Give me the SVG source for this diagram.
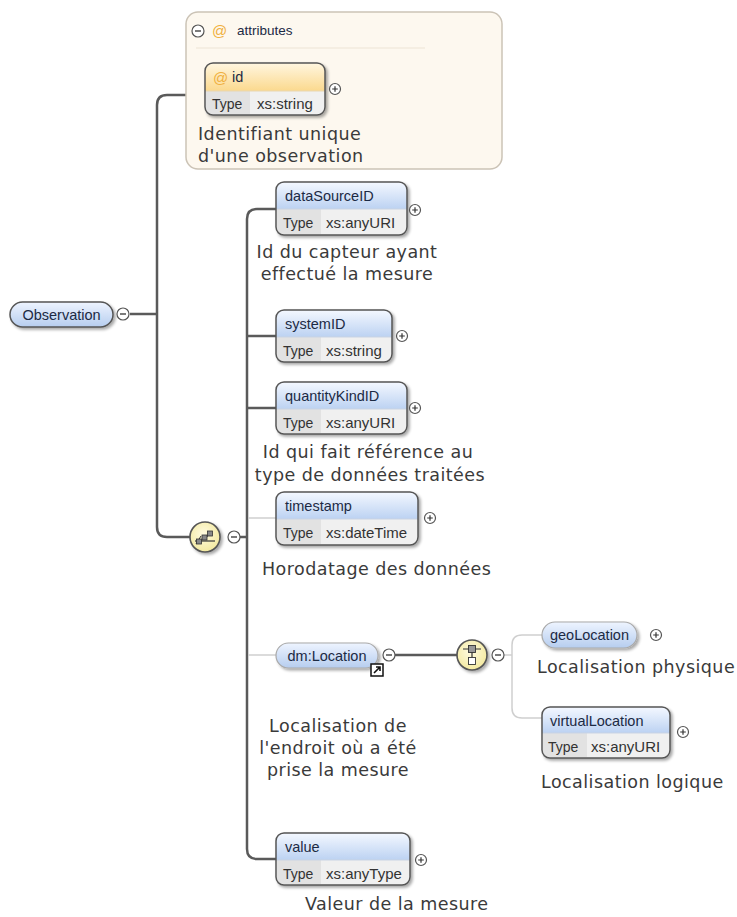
<svg xmlns="http://www.w3.org/2000/svg" width="737" height="917" viewBox="0 0 737 917">
<defs>
<linearGradient id="gBlue" x1="0" y1="0" x2="0" y2="1"><stop offset="0" stop-color="#f4f8ff"/><stop offset="1" stop-color="#bcd2f2"/></linearGradient>
<linearGradient id="gOrange" x1="0" y1="0" x2="0" y2="1"><stop offset="0" stop-color="#fff6e0"/><stop offset="1" stop-color="#fbd98e"/></linearGradient>
<linearGradient id="gPill" x1="0" y1="0" x2="0" y2="1"><stop offset="0" stop-color="#eef4ff"/><stop offset="1" stop-color="#b6cdef"/></linearGradient>
<radialGradient id="gYellow" cx="0.45" cy="0.4" r="0.6"><stop offset="0" stop-color="#fffbe0"/><stop offset="1" stop-color="#f3e9a0"/></radialGradient>
<filter id="sh" x="-10%" y="-10%" width="130%" height="140%"><feGaussianBlur in="SourceAlpha" stdDeviation="1.5"/><feOffset dx="2" dy="2"/><feComponentTransfer><feFuncA type="linear" slope="0.35"/></feComponentTransfer><feMerge><feMergeNode/><feMergeNode in="SourceGraphic"/></feMerge></filter>
<g id="plus"><circle r="5.5" fill="#fff" stroke="#555" stroke-width="1.2"/><path d="M-2.8,0H2.8M0,-2.8V2.8" stroke="#333" stroke-width="1.2"/></g>
<g id="minus"><circle r="6" fill="#fff" stroke="#555" stroke-width="1.2"/><path d="M-3,0H3" stroke="#333" stroke-width="1.3"/></g>
</defs>
<style>
.lbl{font-family:"Liberation Sans",Arial,sans-serif;font-size:14.5px;fill:#1c2a44}
.typ{font-family:"Liberation Sans",Arial,sans-serif;font-size:14px;fill:#333}
.val{font-family:"Liberation Sans",Arial,sans-serif;font-size:15px;fill:#333}
.desc{font-family:"DejaVu Sans",Verdana,sans-serif;font-size:17.5px;fill:#3a3a3a;letter-spacing:0.45px}
.box{fill:none;stroke:#555;stroke-width:1.5}
.row{fill:#f0f0f0}
.tcell{fill:#e2e2e2}
.sep{stroke:#c9d3e3;stroke-width:1}
.conn{fill:none;stroke:#5a5a5a;stroke-width:2.5}
.opt{fill:none;stroke:#cfcfcf;stroke-width:1.5}
</style>

<g id="connectors">
<path class="conn" d="M130,314H157"/>
<path class="conn" d="M187,95H167Q157,95 157,105V527Q157,537 167,537H190"/>
<path class="conn" d="M240,537H247"/>
<path class="conn" d="M276,209H257Q247,209 247,219V849Q247,859 257,859H276"/>
<path class="conn" d="M247,336H276"/>
<path class="conn" d="M247,408H276"/>
<path class="opt" d="M248,518H276"/>
<path class="opt" d="M248,655H276"/>
<path class="conn" d="M395,655H457"/>
<path class="opt" d="M504,655H512"/>
<path class="opt" d="M542,635H522Q512,635 512,645V708Q512,718 522,718H542"/>
</g>

<g id="attributes">
<rect x="186" y="12" width="316" height="157" rx="12" fill="#fdf8ef" stroke="#cbc3b6" stroke-width="1.5"/>
<use href="#minus" x="198" y="31"/>
<text x="212" y="36" font-family="Liberation Sans,Arial,sans-serif" font-size="15" fill="#f0b040">@</text>
<text x="237" y="35" class="lbl" style="font-size:13.5px">attributes</text>
<path d="M196,48H425" stroke="#eee4d6" stroke-width="1.2"/>
</g>

<g id="node-id" transform="translate(205,63)">
<g filter="url(#sh)">
<rect width="120" height="52" rx="8" class="row"/>
<path d="M0,28V8Q0,0 8,0H112Q120,0 120,8V28Z" fill="url(#gOrange)"/>
<rect x="1" y="28" width="44" height="23" class="tcell"/>
<path d="M0,28H120" stroke="#e8d6b0"/>
<rect width="120" height="52" rx="8" class="box" stroke="#888"/>
</g>
<text x="8" y="20" font-family="Liberation Sans,Arial,sans-serif" font-size="15" fill="#f0b040">@</text>
<text x="27" y="19" class="lbl">id</text>
<text x="7" y="46" class="typ">Type</text>
<text x="52" y="46" class="val">xs:string</text>
<use href="#plus" x="130" y="26"/>
</g>
<text class="desc" x="198" y="140">Identifiant unique</text>
<text class="desc" x="198" y="162">d'une observation</text>

<g id="node-observation">
<rect x="10" y="302" width="103" height="25" rx="12.5" fill="url(#gPill)" stroke="#555" stroke-width="1.5" filter="url(#sh)"/>
<text x="61.5" y="320" text-anchor="middle" class="lbl">Observation</text>
<use href="#minus" x="123" y="314"/>
</g>

<g id="node-sequence">
<circle cx="205" cy="537" r="15" fill="url(#gYellow)" stroke="#555" stroke-width="1.6" filter="url(#sh)"/>
<path d="M195,541H215" stroke="#333" stroke-width="1.2"/>
<path d="M196,544L201,536M205,540L210,532" stroke="#333" stroke-width="1"/>
<rect x="196.5" y="539" width="5" height="5" fill="#888" stroke="#333" stroke-width="0.8"/>
<rect x="202" y="535" width="5" height="5" fill="#888" stroke="#333" stroke-width="0.8"/>
<rect x="207.5" y="531" width="5" height="5" fill="#888" stroke="#333" stroke-width="0.8"/>
<use href="#minus" x="234" y="537"/>
</g>

<g id="node-dataSourceID" transform="translate(276,182)">
<g filter="url(#sh)">
<rect width="131" height="53" rx="8" class="row"/>
<path d="M0,27V8Q0,0 8,0H123Q131,0 131,8V27Z" fill="url(#gBlue)"/>
<rect x="1" y="27" width="44" height="25" class="tcell"/>
<path d="M0,27H131" class="sep"/>
<rect width="131" height="53" rx="8" class="box"/>
</g>
<text x="9" y="19" class="lbl">dataSourceID</text>
<text x="7" y="46" class="typ">Type</text>
<text x="50" y="46" class="val">xs:anyURI</text>
<use href="#plus" x="139" y="28"/>
</g>
<text class="desc" x="347" y="258" text-anchor="middle">Id du capteur ayant</text>
<text class="desc" x="347" y="280" text-anchor="middle">effectué la mesure</text>

<g id="node-systemID" transform="translate(276,310)">
<g filter="url(#sh)">
<rect width="116" height="52" rx="8" class="row"/>
<path d="M0,27V8Q0,0 8,0H108Q116,0 116,8V27Z" fill="url(#gBlue)"/>
<rect x="1" y="27" width="44" height="24" class="tcell"/>
<path d="M0,27H116" class="sep"/>
<rect width="116" height="52" rx="8" class="box"/>
</g>
<text x="9" y="19" class="lbl">systemID</text>
<text x="7" y="46" class="typ">Type</text>
<text x="50" y="46" class="val">xs:string</text>
<use href="#plus" x="126" y="26"/>
</g>

<g id="node-quantityKindID" transform="translate(276,382)">
<g filter="url(#sh)">
<rect width="131" height="52" rx="8" class="row"/>
<path d="M0,27V8Q0,0 8,0H123Q131,0 131,8V27Z" fill="url(#gBlue)"/>
<rect x="1" y="27" width="44" height="24" class="tcell"/>
<path d="M0,27H131" class="sep"/>
<rect width="131" height="52" rx="8" class="box"/>
</g>
<text x="9" y="19" class="lbl">quantityKindID</text>
<text x="7" y="46" class="typ">Type</text>
<text x="50" y="46" class="val">xs:anyURI</text>
<use href="#plus" x="139" y="26"/>
</g>
<text class="desc" x="368" y="458" text-anchor="middle">Id qui fait référence au</text>
<text class="desc" x="370" y="481" text-anchor="middle">type de données traitées</text>

<g id="node-timestamp" transform="translate(276,492)">
<g filter="url(#sh)">
<rect width="142" height="53" rx="8" class="row"/>
<path d="M0,27V8Q0,0 8,0H134Q142,0 142,8V27Z" fill="url(#gBlue)"/>
<rect x="1" y="27" width="44" height="25" class="tcell"/>
<path d="M0,27H142" class="sep"/>
<rect width="142" height="53" rx="8" class="box" stroke="#999" stroke-width="1.2"/>
</g>
<text x="9" y="19" class="lbl">timestamp</text>
<text x="7" y="46" class="typ">Type</text>
<text x="50" y="46" class="val">xs:dateTime</text>
<use href="#plus" x="154" y="26"/>
</g>
<text class="desc" x="262" y="575">Horodatage des données</text>

<g id="node-location">
<rect x="276" y="643" width="102" height="25" rx="12.5" fill="url(#gPill)" stroke="#aaa" stroke-width="1.2" filter="url(#sh)"/>
<text x="327" y="661" text-anchor="middle" class="lbl">dm:Location</text>
<rect x="371" y="664" width="12" height="12" fill="#fff" stroke="#111" stroke-width="1.5"/>
<path d="M374,673L380,667M376,667H380V671" stroke="#111" stroke-width="1.6" fill="none"/>
<use href="#minus" x="389" y="655"/>
</g>
<text class="desc" x="338" y="732" text-anchor="middle">Localisation de</text>
<text class="desc" x="338" y="754" text-anchor="middle">l'endroit où a été</text>
<text class="desc" x="338" y="776" text-anchor="middle">prise la mesure</text>

<g id="node-choice">
<circle cx="472" cy="655" r="15" fill="url(#gYellow)" stroke="#555" stroke-width="1.6" filter="url(#sh)"/>
<path d="M463,649H481M472,649V658" stroke="#333" stroke-width="1.2"/>
<rect x="468.5" y="645.5" width="7" height="7" fill="#999" stroke="#333" stroke-width="0.9"/>
<rect x="468.5" y="657.5" width="7" height="7" fill="#fff" stroke="#333" stroke-width="0.9"/>
<use href="#minus" x="498" y="655"/>
</g>

<g id="node-geoLocation">
<rect x="542" y="622" width="95" height="26" rx="13" fill="url(#gPill)" stroke="#aaa" stroke-width="1.2" filter="url(#sh)"/>
<text x="589.5" y="640" text-anchor="middle" class="lbl">geoLocation</text>
<use href="#plus" x="656" y="635"/>
</g>
<text class="desc" x="537" y="673">Localisation physique</text>

<g id="node-virtualLocation" transform="translate(542,707)">
<g filter="url(#sh)">
<rect width="128" height="51" rx="8" class="row"/>
<path d="M0,26V8Q0,0 8,0H120Q128,0 128,8V26Z" fill="url(#gBlue)"/>
<rect x="1" y="26" width="44" height="24" class="tcell"/>
<path d="M0,26H128" class="sep"/>
<rect width="128" height="51" rx="8" class="box" stroke="#aaa" stroke-width="1.2"/>
</g>
<text x="8" y="19" class="lbl">virtualLocation</text>
<text x="6" y="45" class="typ">Type</text>
<text x="49" y="45" class="val">xs:anyURI</text>
<use href="#plus" x="141" y="25"/>
</g>
<text class="desc" x="541" y="788">Localisation logique</text>

<g id="node-value" transform="translate(276,833)">
<g filter="url(#sh)">
<rect width="134" height="52" rx="8" class="row"/>
<path d="M0,27V8Q0,0 8,0H126Q134,0 134,8V27Z" fill="url(#gBlue)"/>
<rect x="1" y="27" width="44" height="24" class="tcell"/>
<path d="M0,27H134" class="sep"/>
<rect width="134" height="52" rx="8" class="box"/>
</g>
<text x="9" y="19" class="lbl">value</text>
<text x="7" y="46" class="typ">Type</text>
<text x="50" y="46" class="val">xs:anyType</text>
<use href="#plus" x="145" y="27"/>
</g>
<text class="desc" x="305" y="910">Valeur de la mesure</text>
</svg>
